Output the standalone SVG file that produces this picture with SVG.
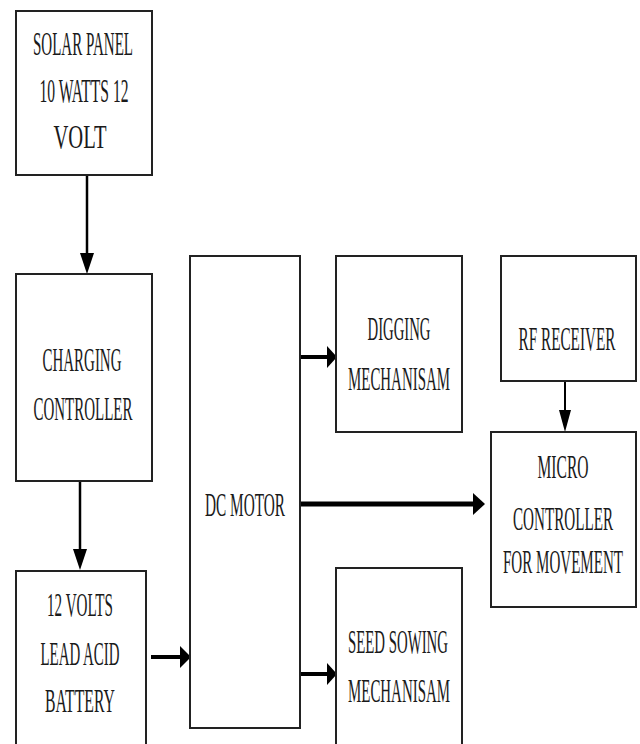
<svg xmlns="http://www.w3.org/2000/svg" width="640" height="744" viewBox="0 0 640 744">
<style>
.box{fill:#fff;stroke:#222;stroke-width:2}
.t{font-family:"Liberation Serif","Times New Roman",serif;font-size:34px;fill:#1a1a1a;text-anchor:middle}
.ln{stroke:#000;fill:none}
.hd{fill:#000}
</style>
<rect width="640" height="744" fill="#fff"/>
<g id="connectors">
<line class="ln" x1="87" y1="175" x2="87" y2="256" stroke-width="2.5"/>
<polygon class="hd" points="80,253 94,253 87,274"/>
<line class="ln" x1="80" y1="481" x2="80" y2="552" stroke-width="2.5"/>
<polygon class="hd" points="73,549 87,549 80,570"/>
<line class="ln" x1="151" y1="657" x2="182" y2="657" stroke-width="4"/>
<polygon class="hd" points="180,646 180,668 191,657"/>
<line class="ln" x1="300" y1="357" x2="329" y2="357" stroke-width="4"/>
<polygon class="hd" points="327,346 327,368 337,357"/>
<line class="ln" x1="300" y1="504" x2="476" y2="504" stroke-width="5"/>
<polygon class="hd" points="473,493 473,515 485,504"/>
<line class="ln" x1="565" y1="381" x2="565" y2="413" stroke-width="2"/>
<polygon class="hd" points="559,410 571,410 565,432"/>
<line class="ln" x1="300" y1="674" x2="329" y2="674" stroke-width="4"/>
<polygon class="hd" points="327,663 327,685 337,674"/>
</g>
<g id="solar">
<rect class="box" x="16" y="11" width="136" height="164"/>
<g transform="scale(0.5,1)">
<text class="t" x="166" y="55" textLength="200" lengthAdjust="spacingAndGlyphs">SOLAR PANEL</text>
<text class="t" x="168" y="102" textLength="178" lengthAdjust="spacingAndGlyphs">10 WATTS 12</text>
<text class="t" x="160" y="148" textLength="106" lengthAdjust="spacingAndGlyphs">VOLT</text>
</g>
</g>
<g id="charging">
<rect class="box" x="16" y="274" width="136" height="207"/>
<g transform="scale(0.5,1)">
<text class="t" x="164" y="371" textLength="158" lengthAdjust="spacingAndGlyphs">CHARGING</text>
<text class="t" x="166" y="420" textLength="198" lengthAdjust="spacingAndGlyphs">CONTROLLER</text>
</g>
</g>
<g id="battery">
<rect class="box" x="16" y="571" width="130" height="190"/>
<g transform="scale(0.5,1)">
<text class="t" x="160" y="616" textLength="132" lengthAdjust="spacingAndGlyphs">12 VOLTS</text>
<text class="t" x="160" y="665" textLength="158" lengthAdjust="spacingAndGlyphs">LEAD ACID</text>
<text class="t" x="160" y="712" textLength="140" lengthAdjust="spacingAndGlyphs">BATTERY</text>
</g>
</g>
<g id="dcmotor">
<rect class="box" x="190" y="256" width="110" height="472"/>
<g transform="scale(0.5,1)">
<text class="t" x="490" y="516" textLength="160" lengthAdjust="spacingAndGlyphs">DC MOTOR</text>
</g>
</g>
<g id="digging">
<rect class="box" x="336" y="256" width="126" height="176"/>
<g transform="scale(0.5,1)">
<text class="t" x="798" y="340" textLength="126" lengthAdjust="spacingAndGlyphs">DIGGING</text>
<text class="t" x="798" y="390" textLength="204" lengthAdjust="spacingAndGlyphs">MECHANISAM</text>
</g>
</g>
<g id="rfreceiver">
<rect class="box" x="501" y="256" width="135" height="125"/>
<g transform="scale(0.5,1)">
<text class="t" x="1134" y="350" textLength="194" lengthAdjust="spacingAndGlyphs">RF RECEIVER</text>
</g>
</g>
<g id="micro">
<rect class="box" x="491" y="432" width="145" height="175"/>
<g transform="scale(0.5,1)">
<text class="t" x="1126" y="478" textLength="102" lengthAdjust="spacingAndGlyphs">MICRO</text>
<text class="t" x="1126" y="530" textLength="200" lengthAdjust="spacingAndGlyphs">CONTROLLER</text>
<text class="t" x="1126" y="573" textLength="240" lengthAdjust="spacingAndGlyphs">FOR MOVEMENT</text>
</g>
</g>
<g id="seed">
<rect class="box" x="336" y="568" width="126" height="200"/>
<g transform="scale(0.5,1)">
<text class="t" x="796" y="653" textLength="200" lengthAdjust="spacingAndGlyphs">SEED SOWING</text>
<text class="t" x="798" y="702" textLength="204" lengthAdjust="spacingAndGlyphs">MECHANISAM</text>
</g>
</g>
</svg>
